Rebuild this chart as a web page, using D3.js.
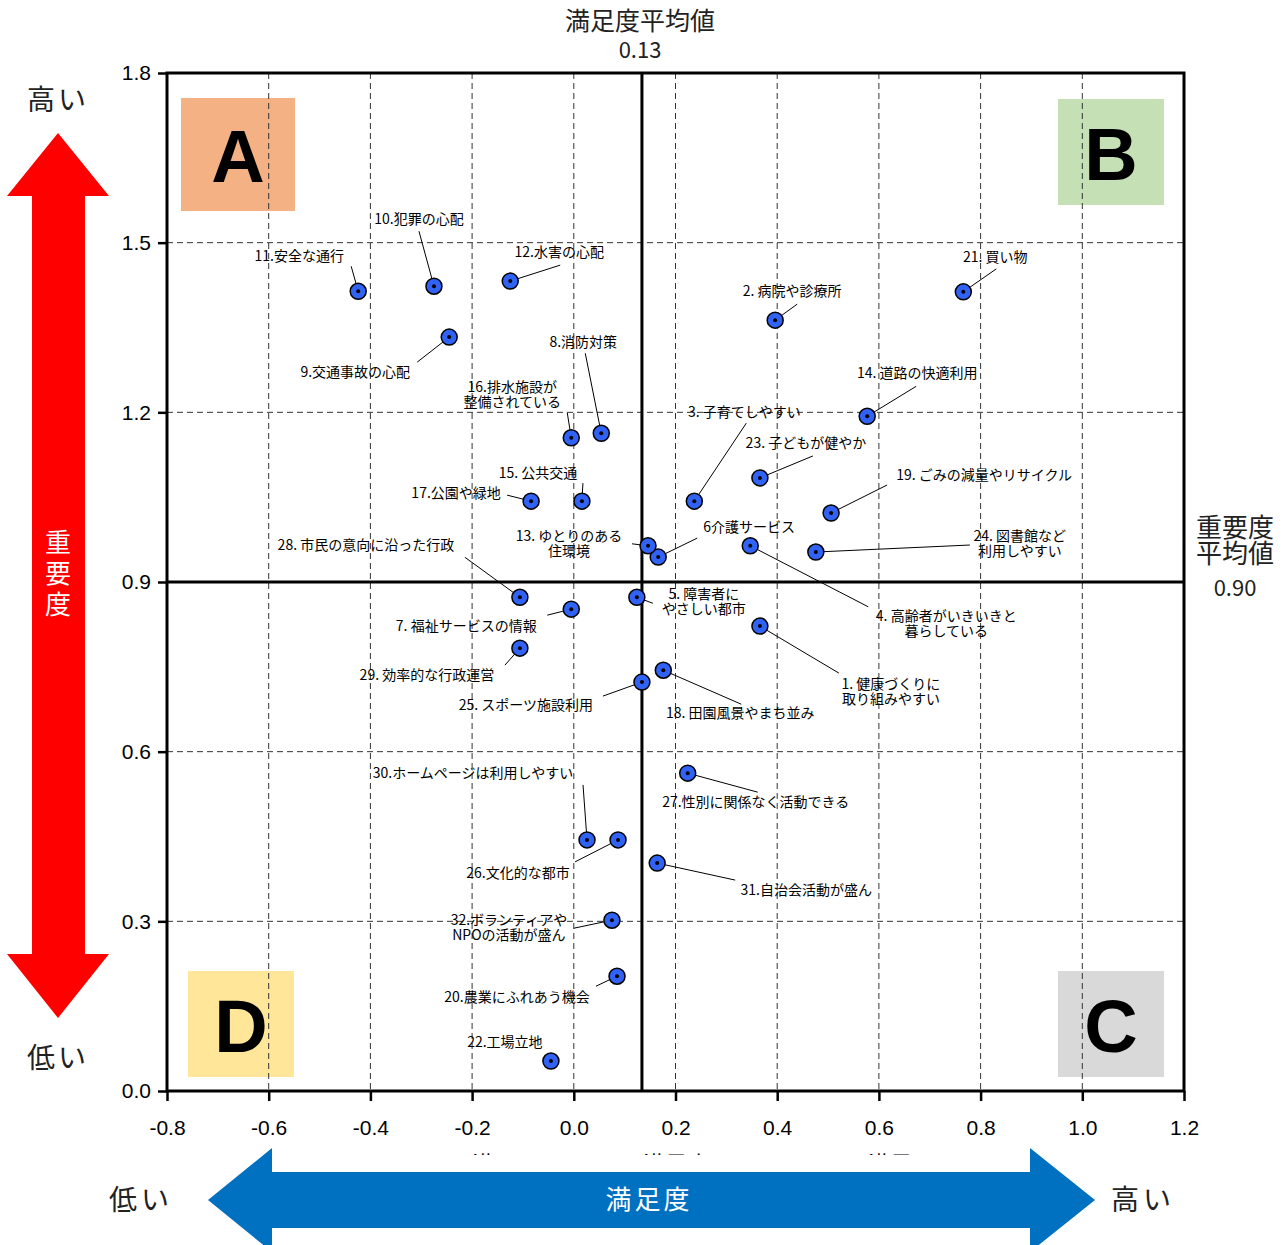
<!DOCTYPE html>
<html>
<head>
<meta charset="utf-8">
<script src="https://cdn.jsdelivr.net/npm/d3@7"></script>
<style>
  body { margin: 0; background: #fff; }
  text { font-family: "Noto Sans CJK JP", "Noto Sans", sans-serif; }
</style>
</head>
<body>
<svg id="chart" width="1282" height="1245"></svg>
<script>
// --- data ---
const items = [
    '1. 健康づくりに\n取り組みやすい', '2. 病院や診療所', '3. 子育てしやすい', '4. 高齢者がいきいきと\n暮らしている',
    '5. 障害者に\nやさしい都市', '6介護サービス', '7. 福祉サービスの情報', '8.消防対策',
    '9.交通事故の心配', '10.犯罪の心配', '11.安全な通行', '12.水害の心配',
    '13. ゆとりのある\n住環境', '14. 道路の快適利用', '15. 公共交通', '16.排水施設が\n整備されている',
    '17.公園や緑地', '18. 田園風景やまち並み', '19. ごみの減量やリサイクル', '20.農業にふれあう機会',
    '21. 買い物', '22.工場立地', '23. 子どもが健やか', '24. 図書館など\n利用しやすい',
    '25. スポーツ施設利用', '26.文化的な都市', '27.性別に関係なく活動できる', '28. 市民の意向に沿った行政',
    '29. 効率的な行政運営', '30.ホームページは利用しやすい', '31.自治会活動が盛ん', '32.ボランティアや\nNPOの活動が盛ん'
];
const satisfaction = [
    0.366, 0.396, 0.237, 0.347, 0.124, 0.166, -0.005, 0.054,
    -0.245, -0.275, -0.424, -0.125, 0.146, 0.577, 0.016, -0.005,
    -0.084, 0.176, 0.506, 0.085, 0.766, -0.045, 0.366, 0.476,
    0.134, 0.087, 0.224, -0.106, -0.106, 0.026, 0.164, 0.075
];
const importance = [
    0.822, 1.363, 1.043, 0.964, 0.873, 0.944, 0.852, 1.163,
    1.333, 1.423, 1.414, 1.432, 0.964, 1.193, 1.043, 1.155,
    1.043, 0.744, 1.022, 0.203, 1.413, 0.053, 1.084, 0.953,
    0.723, 0.444, 0.562, 0.873, 0.783, 0.444, 0.403, 0.302
];
const meanSatisfaction = 0.134;
const meanImportance = 0.90;

const xTicks = [-0.8, -0.6, -0.4, -0.2, 0.0, 0.2, 0.4, 0.6, 0.8, 1.0, 1.2];
const yTicks = [0.0, 0.3, 0.6, 0.9, 1.2, 1.5, 1.8];
const xGrid = [-0.6, -0.4, -0.2, 0.0, 0.2, 0.4, 0.6, 0.8, 1.0];
const yGrid = [0.3, 0.6, 1.2, 1.5];

// label layout: offset (px) from point to label centre, and to leader end
const labelOffset = [
    [131, 58], [17, -29], [50, -89], [196, 70], [67, -3], [91, -30], [-105, 17], [-18, -91],
    [-94, 35], [-15, -67], [-59, -35], [49, -29], [-79, -10], [50, -43], [-44, -28], [-59, -51],
    [-75, -8], [77, 43], [153, -38], [-100, 21], [32, -35], [-46, -19], [46, -35], [204, -16],
    [-116, 23], [-100, 33], [68, 29], [-154, -52], [-93, 27], [-114, -67], [149, 27], [-103, 0]
];
const leaderEnd = [
    [79, 47], [22, -16], [52, -78], [118, 61], [16, 6], [39, -19], [-24, 6], [-16, -80],
    [-32, 25], [-15, -55], [-7, -25], [50, -16], [-16, -2], [49, -30], [1, -18], [-4, -25],
    [-24, -6], [78, 34], [56, -28], [-21, 10], [33, -23], [-3, -8], [53, -22], [154, -7],
    [-39, 14], [-43, 22], [70, 19], [-55, -40], [-15, 17], [-4, -55], [78, 17], [-38, 8]
];

const quadrantNames = ['A', 'B', 'C', 'D'];
const quadrantColors = ['#F4B183', '#C5E0B4', '#D9D9D9', '#FFE699'];

// --- chart ---
let margin = {top: 73, right: 98, bottom: 154, left: 167};
let width = 1282 - margin.left - margin.right;
let height = 1245 - margin.top - margin.bottom;

let svg = d3.select('#chart');
let g = svg.append('g')
    .attr('transform', 'translate(' + margin.left + ',' + margin.top + ')');

let xScale = d3.scaleLinear().domain([-0.8, 1.2]).range([0, width]);
let yScale = d3.scaleLinear().domain([0, 1.8]).range([height, 0]);

// quadrant boxes
let boxes = [
    {x: 14, y: 25, w: 114, h: 113},
    {x: width - 126, y: 26, w: 106, h: 106},
    {x: width - 126, y: height - 120, w: 106, h: 106},
    {x: 21, y: height - 120, w: 106, h: 106}
];
boxes.forEach(function (b, i) {
    g.append('rect')
        .attr('x', b.x).attr('y', b.y)
        .attr('width', b.w).attr('height', b.h)
        .attr('fill', quadrantColors[i]);
    g.append('text')
        .attr('x', b.x + b.w / 2)
        .attr('y', b.y + b.h / 2 + 2)
        .attr('text-anchor', 'middle')
        .attr('dominant-baseline', 'central')
        .style('font-family', 'Liberation Sans, Arial, sans-serif')
        .style('font-weight', 'bold')
        .style('font-size', '74px')
        .text(quadrantNames[i]);
});

// grid
g.selectAll('.vgrid').data(xGrid).enter().append('line')
    .attr('x1', d => xScale(d)).attr('x2', d => xScale(d))
    .attr('y1', 0).attr('y2', height)
    .attr('stroke', '#333').attr('stroke-width', 1).attr('stroke-dasharray', '6,4');
g.selectAll('.hgrid').data(yGrid).enter().append('line')
    .attr('y1', d => yScale(d)).attr('y2', d => yScale(d))
    .attr('x1', 0).attr('x2', width)
    .attr('stroke', '#333').attr('stroke-width', 1).attr('stroke-dasharray', '6,4');

// mean lines
g.append('line')
    .attr('x1', xScale(meanSatisfaction)).attr('x2', xScale(meanSatisfaction))
    .attr('y1', 0).attr('y2', height)
    .attr('stroke', '#000').attr('stroke-width', 3);
g.append('line')
    .attr('x1', 0).attr('x2', width)
    .attr('y1', yScale(meanImportance)).attr('y2', yScale(meanImportance))
    .attr('stroke', '#000').attr('stroke-width', 3);

// axes
let xAxis = d3.axisBottom(xScale).tickValues(xTicks).tickSize(10).tickPadding(19)
    .tickFormat(d => d.toFixed(1));
let xg = g.append('g').attr('transform', 'translate(0,' + height + ')').call(xAxis);
let yAxis = d3.axisLeft(yScale).tickValues(yTicks).tickSize(9).tickPadding(7)
    .tickFormat(d => d.toFixed(1));
let yg = g.append('g').call(yAxis);
[xg, yg].forEach(function (ax) {
    ax.select('.domain').remove();
    ax.selectAll('line').attr('stroke', '#000').attr('stroke-width', 2.5);
    ax.selectAll('text')
        .style('font-family', '"Liberation Sans Narrow", "Liberation Sans", sans-serif')
        .style('font-size', '21px')
        .attr('fill', '#000');
});

// frame
g.append('rect')
    .attr('x', 0).attr('y', 0).attr('width', width).attr('height', height)
    .attr('fill', 'none').attr('stroke', '#000').attr('stroke-width', 3);

// leader lines
let points = items.map(function (name, i) {
    return {name: name, x: xScale(satisfaction[i]), y: yScale(importance[i]), i: i};
});
g.selectAll('.leader').data(points).enter().append('line')
    .attr('x1', d => d.x).attr('y1', d => d.y)
    .attr('x2', d => d.x + leaderEnd[d.i][0])
    .attr('y2', d => d.y + leaderEnd[d.i][1])
    .attr('stroke', '#000').attr('stroke-width', 1);

// markers
g.selectAll('.pt').data(points).enter().append('circle')
    .attr('cx', d => d.x).attr('cy', d => d.y).attr('r', 8)
    .attr('fill', '#3063F5').attr('stroke', '#000').attr('stroke-width', 1.5);
g.selectAll('.dot').data(points).enter().append('circle')
    .attr('cx', d => d.x).attr('cy', d => d.y).attr('r', 2)
    .attr('fill', '#000');

// labels
points.forEach(function (d) {
    let lines = d.name.split('\n');
    let t = g.append('text')
        .attr('text-anchor', 'middle')
        .style('font-size', '14px')
        .attr('fill', '#000');
    lines.forEach(function (line, k) {
        t.append('tspan')
            .attr('x', d.x + labelOffset[d.i][0])
            .attr('y', d.y + labelOffset[d.i][1] + k * 15 + 5)
            .text(line);
    });
});

// mean value captions
svg.append('text').attr('x', 640).attr('y', 30).attr('text-anchor', 'middle')
    .style('font-size', '25px').attr('fill', '#222').text('満足度平均値');
svg.append('text').attr('x', 640).attr('y', 58).attr('text-anchor', 'middle')
    .style('font-size', '22px').attr('fill', '#222').text(meanSatisfaction.toFixed(2));
let meanCap = svg.append('text').attr('text-anchor', 'middle')
    .style('font-size', '26px').attr('fill', '#222');
meanCap.append('tspan').attr('x', 1235).attr('y', 537).text('重要度');
meanCap.append('tspan').attr('x', 1235).attr('y', 563).text('平均値');
svg.append('text').attr('x', 1235).attr('y', 596).attr('text-anchor', 'middle')
    .style('font-size', '22px').attr('fill', '#222').text(meanImportance.toFixed(2));

// hidden x-axis title mostly covered by the arrow
[['不満', 472], ['満足度', 676], ['満足', 890]].forEach(function (p) {
    svg.append('text').attr('x', p[1]).attr('y', 1172).attr('text-anchor', 'middle')
        .style('font-size', '22px').attr('fill', '#000').text(p[0]);
});
svg.append('rect').attr('x', 140).attr('y', 1155).attr('width', 1000).attr('height', 90).attr('fill', '#fff');

// vertical red arrow (importance)
let ax = 58;
svg.append('path')
    .attr('d', 'M' + ax + ',133 L' + (ax + 51) + ',196 L' + (ax + 27) + ',196 L' + (ax + 27) + ',954 L' + (ax + 51) + ',954 L' + ax + ',1018 L' + (ax - 51) + ',954 L' + (ax - 26) + ',954 L' + (ax - 26) + ',196 L' + (ax - 51) + ',196 Z')
    .attr('fill', '#FF0000');
['重', '要', '度'].forEach(function (c, k) {
    svg.append('text').attr('x', ax).attr('y', 552 + k * 31).attr('text-anchor', 'middle')
        .style('font-size', '26px').attr('fill', '#fff').text(c);
});
svg.append('text').attr('x', ax).attr('y', 110).attr('text-anchor', 'middle')
    .style('font-size', '28px').style('letter-spacing', '3px').attr('fill', '#222').text('高い');
svg.append('text').attr('x', ax).attr('y', 1068).attr('text-anchor', 'middle')
    .style('font-size', '28px').style('letter-spacing', '3px').attr('fill', '#222').text('低い');

// horizontal blue arrow (satisfaction)
let ay = 1200;
svg.append('path')
    .attr('d', 'M208,' + ay + ' L272,' + (ay - 52) + ' L272,' + (ay - 28) + ' L1030,' + (ay - 28) + ' L1030,' + (ay - 52) + ' L1095,' + ay + ' L1030,' + (ay + 52) + ' L1030,' + (ay + 28) + ' L272,' + (ay + 28) + ' L272,' + (ay + 52) + ' Z')
    .attr('fill', '#0070C0');
svg.append('text').attr('x', 649).attr('y', ay + 9).attr('text-anchor', 'middle')
    .style('font-size', '26px').style('letter-spacing', '3px').attr('fill', '#fff').text('満足度');
svg.append('text').attr('x', 141).attr('y', ay + 10).attr('text-anchor', 'middle')
    .style('font-size', '28px').style('letter-spacing', '4px').attr('fill', '#222').text('低い');
svg.append('text').attr('x', 1143).attr('y', ay + 10).attr('text-anchor', 'middle')
    .style('font-size', '28px').style('letter-spacing', '4px').attr('fill', '#222').text('高い');
</script>
</body>
</html>
